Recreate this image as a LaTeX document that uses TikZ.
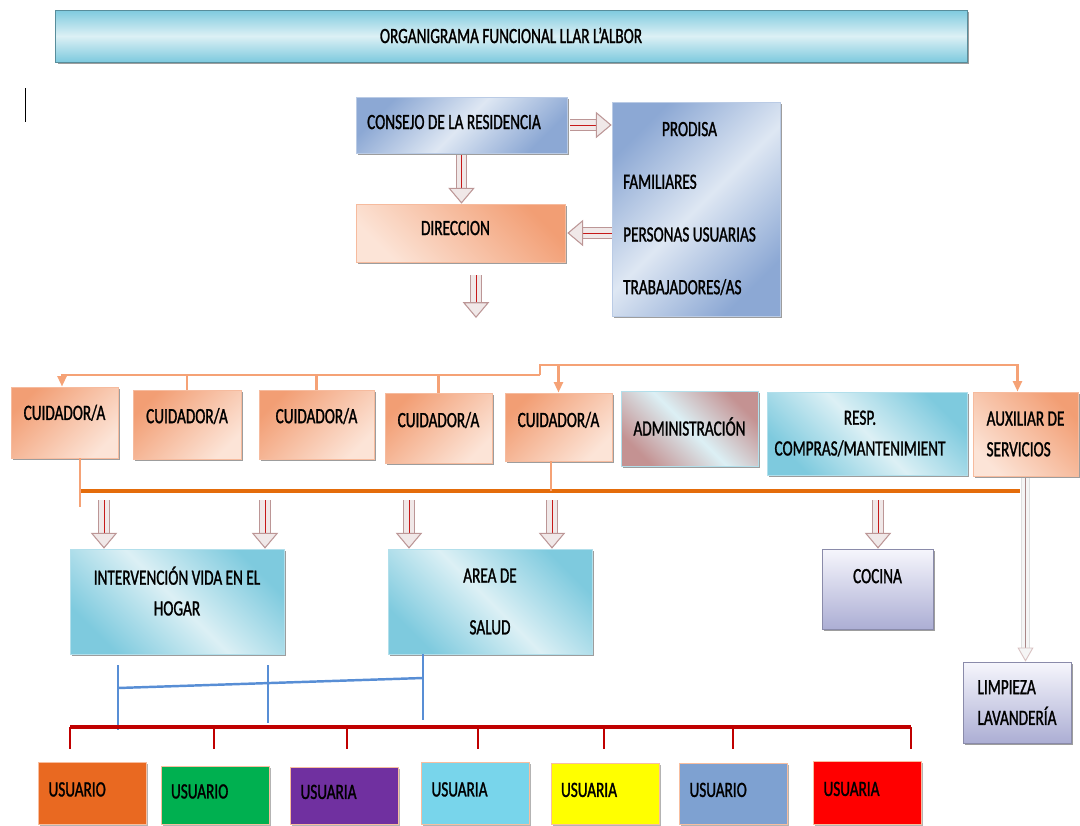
\documentclass[tikz,border=0pt]{standalone}
\usepackage{fontspec}
\setmainfont{Carlito}[FakeStretch=0.7, FakeBold=1.2]
\usetikzlibrary{arrows.meta,shadows,calc}

\definecolor{orgD}{RGB}{242,158,116}
\definecolor{orgL}{RGB}{252,228,215}
\definecolor{bluD}{RGB}{140,168,212}
\definecolor{bluL}{RGB}{222,231,243}
\definecolor{cyD}{RGB}{126,202,222}
\definecolor{cyL}{RGB}{220,240,245}
\definecolor{mauve}{RGB}{196,146,146}
\definecolor{lavD}{RGB}{172,174,212}
\definecolor{lavL}{RGB}{246,246,252}
\definecolor{busC}{RGB}{245,162,118}
\definecolor{hubC}{RGB}{228,108,10}
\definecolor{bluC}{RGB}{88,142,213}
\definecolor{redC}{RGB}{192,0,0}
\definecolor{arrF}{RGB}{240,232,232}
\definecolor{arrE}{RGB}{188,150,150}
\definecolor{usr1}{RGB}{233,105,33}
\definecolor{usr2}{RGB}{0,176,80}
\definecolor{usr3}{RGB}{112,48,160}
\definecolor{usr4}{RGB}{120,213,235}
\definecolor{usr5}{RGB}{255,255,0}
\definecolor{usr6}{RGB}{126,161,209}
\definecolor{usr7}{RGB}{255,0,0}

\newcommand{\boxfont}{\fontsize{12.4}{17.5}\selectfont}

\tikzset{
    box/.style={thin, inner sep=2pt, drop shadow={shadow xshift=1.4pt, shadow yshift=-1.4pt, fill=black!55, opacity=0.7}},
    oneline/.style={text height=8pt, text depth=#1},
    oneline/.default=0pt,
    orgbox/.style={box, draw=orgD!70, left color=orgD, right color=orgL, shading angle=45},
    bluebox/.style={box, draw=bluD!60, left color=bluD, right color=bluD, middle color=bluL, shading angle=45},
    cyanbox/.style={box, draw=cyD!60, left color=cyD, right color=cyD, middle color=cyL, shading angle=315},
    mauvebox/.style={box, draw=cyD!60, left color=mauve, right color=mauve, middle color=cyL, shading angle=315},
    lavbox/.style={box, draw=lavD!80!black, top color=lavL, bottom color=lavD},
    titlebox/.style={box, draw=cyD!70!black, top color=cyD, bottom color=cyD, middle color=cyL},
    usrbox/.style={draw=busC!70, thin, inner xsep=0.2cm, text width=1.76cm, align=left, anchor=north,
        drop shadow={shadow xshift=1pt, shadow yshift=-1.2pt, fill=black!50, opacity=0.6}},
    hollow/.style={-{Triangle[length=9pt, width=15pt, fill=arrF, color=arrE, line width=0.6pt]},
        draw=redC!90, line width=0.5pt,
        preaction={draw=arrE, line width=6.4pt, -, shorten >=8pt},
        preaction={draw=arrF, line width=5.2pt, -, shorten >=8pt}},
    thinhollow/.style={-{Triangle[length=8pt, width=9pt, fill=gray!8, color=arrE!60, line width=0.5pt]},
        draw=arrE!90!black, line width=0.5pt,
        preaction={draw=gray!25, line width=4.6pt, -, shorten >=7pt},
        preaction={draw=gray!8, line width=3.8pt, -, shorten >=7pt}},
    busline/.style={draw=busC, line width=1.6pt},
    hubline/.style={draw=hubC, line width=2.3pt},
    blueline/.style={draw=bluC, line width=1.4pt},
    redline/.style={draw=redC, line width=1.5pt}
}

\begin{document}
\begin{tikzpicture}[x=0.02cm, y=-0.02cm, font=\boxfont]
\useasboundingbox (0,0) rectangle (1080,826);

% title
\node[titlebox, oneline, minimum width=18.24cm, minimum height=1.04cm] (title) at (511,36) {ORGANIGRAMA FUNCIONAL LLAR L’ALBOR};
\draw[black, line width=0.5pt] (25,88) -- (25,122);

% governing bodies
\node[bluebox, oneline=3.4pt, minimum width=4.22cm, minimum height=1.12cm] (consejo) at (461.5,125) {CONSEJO DE LA RESIDENCIA\kern0.3cm};
\node[bluebox, minimum width=3.36cm, minimum height=4.28cm] (prodisa) at (696,209)
    {\begin{tabular}{@{}l@{}}\multicolumn{1}{@{}c@{}}{PRODISA}\\[12.5pt] FAMILIARES\\[12.5pt] PERSONAS USUARIAS\\[12.5pt] TRABAJADORES/AS\end{tabular}\kern0.26cm};
\node[orgbox, oneline=5.7pt, minimum width=4.18cm, minimum height=1.16cm, shading angle=-45] (direccion) at (460.5,233) {DIRECCION\kern0.2cm};

\draw[hollow] ([xshift=0.06cm]consejo.east) -- (prodisa.west |- consejo.east);
\draw[hollow, shorten <=0.04cm] (consejo.south) -- (consejo.south |- direccion.north);
\draw[hollow] (prodisa.west |- direccion.east) -- ([xshift=0.04cm]direccion.east);
\coordinate (dirout) at (476,318);
\draw[hollow, shorten <=0.26cm] (direccion.south -| dirout) -- (dirout);

% staff row
\node[orgbox, oneline=11pt, minimum width=2.14cm, minimum height=1.42cm] (c1) at (64.5,422.5) {CUIDADOR/A};
\node[orgbox, oneline=9.5pt, minimum width=2.16cm, minimum height=1.38cm] (c2) at (187,424.5) {CUIDADOR/A};
\node[orgbox, oneline=9.5pt, minimum width=2.30cm, minimum height=1.38cm] (c3) at (316.5,424.5) {CUIDADOR/A};
\node[orgbox, oneline=9pt, minimum width=2.14cm, minimum height=1.40cm] (c4) at (438.5,428) {CUIDADOR/A};
\node[orgbox, oneline=8pt, minimum width=2.14cm, minimum height=1.36cm] (c5) at (558.5,427) {CUIDADOR/A};
\node[mauvebox, oneline, minimum width=2.74cm, minimum height=1.50cm] (admin) at (689.5,428.5) {ADMINISTRACIÓN};
\node[cyanbox, align=center, minimum width=4.00cm, minimum height=1.66cm] (resp) at (867,433.5) {RESP.\kern0.28cm\\COMPRAS/MANTENIMIENT\kern0.28cm};
\node[orgbox, align=left, minimum width=2.10cm, minimum height=1.68cm, shading angle=-45] (aux) at (1025.5,434) {AUXILIAR DE\\SERVICIOS};

\coordinate (busL) at (540,375);
\coordinate (busR) at (540,365);
\draw[busline, -{Triangle[length=6pt, width=5pt]}] (busL) -| ([xshift=-0.05cm]c1.north);
\foreach \n in {c2,c3,c4}
    \draw[busline] (busL -| \n.north) -- (\n.north);
\draw[busline, -{Triangle[length=6pt, width=5pt]}] (busL) -- (busR) -| ([xshift=-0.16cm]aux.north);
\draw[busline, -{Triangle[length=6pt, width=5pt]}] (busR -| c5.north) -- (c5.north);

% working areas
\node[cyanbox, align=center, text depth=12pt, minimum width=4.28cm, minimum height=2.10cm] (interv) at (177,601.5) {INTERVENCIÓN VIDA EN EL\\HOGAR};
\node[cyanbox, align=center, minimum width=4.08cm, minimum height=2.10cm] (area) at (490,601.5) {AREA DE\\[12pt]SALUD};
\node[lavbox, oneline=14.7pt, minimum width=2.22cm, minimum height=1.60cm] (cocina) at (877.5,589) {COCINA};
\node[lavbox, align=left, minimum width=2.16cm, minimum height=1.62cm] (limp) at (1017,702.5) {LIMPIEZA\\LAVANDERÍA};

\coordinate (hubL) at (80,491);
\coordinate (hubR) at (1020,491);
\coordinate (hubM) at (551,491);
\coordinate (c1tail) at (80,507);
\draw[hubline] (hubL) -- (hubR);
\draw[busline, line width=1.2pt] (c1.south -| c1tail) -- (c1tail);
\draw[busline, line width=1.2pt] (c5.south -| hubM) -- (hubM);
\foreach \x/\n in {104/interv,265/interv,409/area,552/area,878/cocina}
    \draw[hollow, shorten <=0.18cm] (\x,0 |- hubL) -- (\x,0 |- \n.north);
\draw[thinhollow, shorten <=0.04cm] (aux.south) -- (aux.south |- limp.north);

% links to the residents
\coordinate (bL) at (118,688);
\coordinate (bR) at (423,678);
\draw[blueline] (bL) -- (bR);
\draw[blueline] (118,665) -- (118,730);
\draw[blueline] (268,665) -- (268,723);
\draw[blueline] (area.south -| bR) -- (423,720);

\coordinate (rL) at (70,727);
\coordinate (rR) at (911,727);
\draw[redline, line width=2.2pt] (rL) -- (rR);
\foreach \x in {70,214,347,478,604,733,911}
    \draw[redline] (\x,0 |- rL) -- ++(0,22);

\foreach \x/\y/\c/\t [count=\i] in {92.5/762/usr1/USUARIO, 215/766/usr2/USUARIO, 344.5/767/usr3/USUARIA,
        475.5/762/usr4/USUARIA, 605/763/usr5/USUARIA, 733.5/763/usr6/USUARIO, 867.5/761/usr7/USUARIA}
    \node[usrbox, oneline=4.5pt, fill=\c, minimum height={(824-\y)*0.02cm}] (u\i) at (\x,\y) {\t};
\end{tikzpicture}
\end{document}
